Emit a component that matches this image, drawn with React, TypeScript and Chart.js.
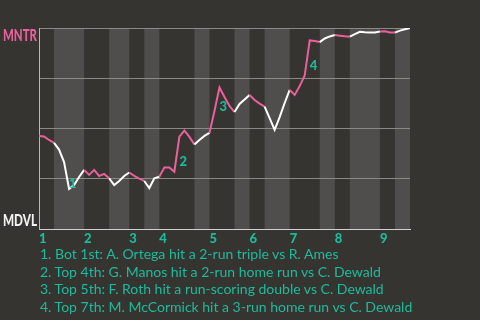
import React, { useEffect, useRef } from "react";
import { Chart, registerables } from "chart.js";

Chart.register(...registerables);

const TEAM_TOP = "MNTR";
const TEAM_BOTTOM = "MDVL";
const INNING_LABELS = ["1", "2", "3", "4", "5", "6", "7", "8", "9"];
// plate appearances in each half inning (top 1, bot 1, top 2, ...)
const PAS_PER_HALF = [3, 6, 5, 4, 3, 3, 7, 3, 5, 3, 3, 5, 6, 3, 3, 6, 3, 3];
// MNTR win probability after each plate appearance (index 0 = first pitch)
const WIN_PROB = [
  0.463, 0.46, 0.443, 0.428, 0.395, 0.333, 0.199, 0.219, 0.259, 0.294,
  0.269, 0.294, 0.264, 0.274, 0.252, 0.219, 0.239, 0.264, 0.281, 0.264,
  0.251, 0.239, 0.204, 0.252, 0.26, 0.306, 0.306, 0.285, 0.459, 0.49,
  0.458, 0.421, 0.443, 0.463, 0.478, 0.587, 0.704, 0.657, 0.612, 0.582,
  0.622, 0.644, 0.667, 0.642, 0.624, 0.609, 0.552, 0.493, 0.557, 0.627,
  0.692, 0.667, 0.711, 0.764, 0.938, 0.935, 0.93, 0.948, 0.958, 0.965,
  0.962, 0.959, 0.957, 0.97, 0.981, 0.979, 0.978, 0.978, 0.983, 0.984,
  0.978, 0.977, 0.987, 0.994, 1.0,
];
const EVENT_PA = [6, 28, 36, 54];
const EVENT_NOTES = [
  "1. Bot 1st: A. Ortega hit a 2-run triple vs R. Ames",
  "2. Top 4th: G. Manos hit a 2-run home run vs C. Dewald",
  "3. Top 5th: F. Roth hit a run-scoring double vs C. Dewald",
  "4. Top 7th: M. McCormick hit a 3-run home run vs C. Dewald",
];

const BG = "#363431";
const BAND = "#4f4e4c";
const PINK = "#e9609b";
const WHITE = "#ffffff";
const TEAL = "#1bbc9b";
const GRID = "#8a8986";
const FONT = "Lato, 'Open Sans', sans-serif";

const HALF_ENDS: number[] = [];
PAS_PER_HALF.reduce((acc, n) => {
  HALF_ENDS.push(acc + n);
  return acc + n;
}, 0);
const HALF_STARTS = [0, ...HALF_ENDS.slice(0, -1)];
const INNING_STARTS = HALF_STARTS.filter((_, i) => i % 2 === 0);
const TOTAL_PA = HALF_ENDS[HALF_ENDS.length - 1];

function halfOfPA(pa: number): number {
  for (let h = 0; h < HALF_ENDS.length; h++) {
    if (pa <= HALF_ENDS[h]) return h;
  }
  return HALF_ENDS.length - 1;
}

const decorPlugin = {
  id: "decor",
  beforeDraw(chart: any) {
    const { ctx, chartArea, scales } = chart;
    const x = scales.x;
    ctx.save();
    ctx.fillStyle = BAND;
    HALF_STARTS.forEach((s, h) => {
      if (h % 2 === 1) {
        const x0 = x.getPixelForValue(s);
        const x1 = x.getPixelForValue(HALF_ENDS[h]);
        ctx.fillRect(x0, chartArea.top, x1 - x0, chartArea.bottom - chartArea.top);
      }
    });
    ctx.restore();
  },
  afterDraw(chart: any) {
    const { ctx, chartArea, scales } = chart;
    const x = scales.x;
    const y = scales.y;
    ctx.save();
    ctx.font = `900 16px ${FONT}`;
    ctx.textBaseline = "alphabetic";
    ctx.textAlign = "left";
    ctx.fillStyle = PINK;
    ctx.fillText(TEAM_TOP, 3, chartArea.top + 13, 34);
    ctx.fillStyle = "#f2f2f2";
    ctx.fillText(TEAM_BOTTOM, 3, chartArea.bottom - 3, 34);

    ctx.font = `900 13px ${FONT}`;
    ctx.fillStyle = TEAL;
    EVENT_PA.forEach((pa, i) => {
      const px = x.getPixelForValue(pa);
      const midY = (y.getPixelForValue(WIN_PROB[pa - 1]) + y.getPixelForValue(WIN_PROB[pa])) / 2;
      ctx.fillText(String(i + 1), px, midY + 12);
    });
    ctx.restore();
  },
};

export default function App() {
  const ref = useRef<HTMLCanvasElement | null>(null);

  useEffect(() => {
    if (!ref.current) return;
    const chart = new Chart(ref.current, {
      type: "line",
      data: {
        datasets: [
          {
            data: WIN_PROB.map((v, i) => ({ x: i, y: v })),
            borderColor: WHITE,
            borderWidth: 2,
            pointRadius: 0,
            tension: 0,
            segment: {
              borderColor: (c: any) => (halfOfPA(c.p1DataIndex) % 2 === 0 ? PINK : WHITE),
            },
          },
        ],
      },
      options: {
        animation: false,
        responsive: false,
        maintainAspectRatio: false,
        layout: { padding: { left: 39, right: 70, top: 28, bottom: 0 } },
        plugins: { legend: { display: false }, tooltip: { enabled: false } },
        scales: {
          x: {
            type: "linear",
            min: 0,
            max: TOTAL_PA,
            afterBuildTicks: (axis: any) => {
              axis.ticks = INNING_STARTS.map((v) => ({ value: v }));
            },
            afterFit: (axis: any) => {
              axis.height = 21;
            },
            grid: { display: false, drawTicks: false },
            border: { display: true, color: "#d0d0ce", width: 1 },
            ticks: {
              align: "start",
              autoSkip: false,
              maxRotation: 0,
              padding: 2,
              color: TEAL,
              font: { family: FONT, size: 13, weight: "900" },
              callback: (v: any) => INNING_LABELS[INNING_STARTS.indexOf(Number(v))] ?? "",
            },
          },
          y: {
            min: 0,
            max: 1,
            ticks: { display: false, stepSize: 0.25 },
            grid: {
              drawTicks: false,
              color: (c: any) => (c.tick && c.tick.value === 0 ? "rgba(0,0,0,0)" : GRID),
            },
            border: { display: true, color: "#b9b8b4", width: 1 },
          },
        },
      },
      plugins: [decorPlugin],
    } as any);
    return () => chart.destroy();
  }, []);

  return (
    <div
      style={{
        position: "fixed",
        left: 0,
        top: 0,
        width: 480,
        height: 320,
        background: BG,
        overflow: "hidden",
      }}
    >
      <canvas ref={ref} width={480} height={250} style={{ display: "block", width: 480, height: 250 }} />
      <div
        style={{
          position: "absolute",
          left: 40,
          top: 245,
          color: TEAL,
          fontFamily: FONT,
          fontSize: 14,
          lineHeight: "17.7px",
          whiteSpace: "nowrap",
        }}
      >
        {EVENT_NOTES.map((t) => (
          <div key={t}>{t}</div>
        ))}
      </div>
    </div>
  );
}
